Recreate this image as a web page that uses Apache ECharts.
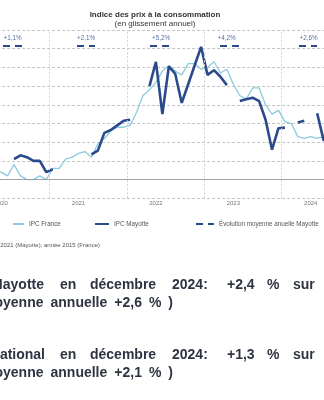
<!DOCTYPE html>
<html><head><meta charset="utf-8">
<script src="https://cdn.jsdelivr.net/npm/echarts@6/dist/echarts.min.js"></script>
<style>html,body{margin:0;padding:0;background:#fff;overflow:hidden;width:324px;height:400px;position:relative}
#c{position:absolute;left:-28px;top:0;width:388px;height:400px}</style>
</head><body><div id="c"></div>
<script>
// ---- data ----
const years = ['2020', '2021', '2022', '2023', '2024'];
const monthNums = ['01','02','03','04','05','06','07','08','09','10','11','12'];
const categories = [];
years.forEach(y => monthNums.forEach(m => categories.push(y + '-' + m)));

const ipcFrance = [
  1.5, 1.4, 0.7, 0.3, 0.4, 0.2, 0.8, 0.2, 0.0, 0.0, 0.2, 0.0,
  0.6, 0.6, 1.1, 1.2, 1.4, 1.5, 1.2, 1.9, 2.2, 2.6, 2.8, 2.8,
  2.9, 3.6, 4.5, 4.8, 5.2, 5.8, 6.1, 5.8, 5.6, 6.2, 6.2, 5.9,
  6.0, 6.3, 5.7, 5.9, 5.1, 4.5, 4.3, 4.9, 4.9, 4.0, 3.5, 3.7,
  3.1, 3.0, 2.3, 2.2, 2.3, 2.2, 2.3, 1.8, 1.2, 1.2, 1.3, 1.3
];
const ipcMayotte = [
  null, null, null, null, null, null, 1.1, 1.3, 1.2, 1.0, 1.0, 0.4,
  0.55, null, null, null, null, null, 1.35, 1.55, 2.5, 2.65, 2.9, 3.15,
  3.2, null, null, 5.0, 6.3, 3.5, 6.05, 5.65, 4.1, 5.1, 6.1, 7.1,
  5.6, 5.85, 5.5, 5.05, null, 4.2, 4.3, 4.38, 4.2, 3.2, 1.6, 2.75,
  2.78, null, 3.05, 3.15, null, 3.55, 2.1, 2.3, 2.2, 2.5, 2.6, 2.4
];
const avgMayotte = [1.1, 2.1, 5.2, 4.2, 2.6];
const avgLabels = avgMayotte.map(v => '+' + v.toFixed(1).replace('.', ',') + '%');

// ---- layout ----
const OFF = 28; // container is shifted 28px left (the reference is a crop)
const DASH_Y = 7.15, LABEL_Y = 7.58;
const dashSpans = [[4.29, 7.24], [15.76, 18.55], [27.08, 30.18], [37.93, 41.5], [50.18, 52.97]];
const labelCenters = [5.76, 17.16, 28.79, 38.94, 51.66];

const avgLineData = [];
dashSpans.forEach((s, i) => {
  if (i > 0) avgLineData.push([s[0] - 0.5, '-']);
  avgLineData.push([s[0], DASH_Y], [s[1], DASH_Y]);
});
const avgLabelData = labelCenters.map(c => [c, LABEL_Y]);

const NAVY = '#2b4a8b';
const LIGHT = '#8ccbe0';
const TXT = '#2f3443';
const bigFont = 'bold 14px "Liberation Sans", Arial, sans-serif';

function txt(text, x, y, align, font, fill) {
  return { type: 'text', silent: true, style: { text: text, x: x + OFF, y: y, align: align, verticalAlign: 'middle', font: font, fill: fill } };
}
function wordLine(y, list) {
  return list.map(w => txt(w[0], w[1], y, w[2] || 'left', bigFont, TXT));
}

const chart = echarts.init(document.getElementById('c'), null, { renderer: 'canvas' });
chart.setOption({
  animation: false,
  backgroundColor: '#ffffff',
  textStyle: { fontFamily: '"Liberation Sans", Arial, sans-serif' },
  grid: { left: 0.1, right: 0.9, top: 30, bottom: 201.7, containLabel: false },
  xAxis: [{
    type: 'category', data: categories, boundaryGap: true,
    axisLine: { show: false }, axisTick: { show: false }, splitLine: { show: false },
    axisLabel: {
      interval: (i) => i % 12 === 4,
      formatter: v => v.slice(0, 4),
      fontSize: 6, color: '#777', margin: 2
    }
  }, {
    type: 'value', min: -0.5, max: 59.5, show: false,
    splitLine: { show: false }
  }],
  yAxis: {
    type: 'value', min: -1, max: 8, interval: 1,
    axisLine: { show: false }, axisTick: { show: false }, axisLabel: { show: false },
    splitLine: { show: true, lineStyle: { color: '#c4c4c4', type: [3, 2], width: 1 } }
  },
  legend: [
    { data: ['IPC France'], left: 12 + OFF, top: 221, itemWidth: 11, itemHeight: 6, padding: 0,
      itemStyle: { opacity: 0 }, textStyle: { fontSize: 6.3, color: '#555' } },
    { data: ['IPC Mayotte'], left: 94 + OFF, top: 221, itemWidth: 14, itemHeight: 6, padding: 0,
      itemStyle: { opacity: 0 }, textStyle: { fontSize: 6.3, color: '#555' } },
    { data: ['Évolution moyenne anuelle Mayotte'], left: 195 + OFF, top: 221, itemWidth: 18, itemHeight: 6, padding: 0,
      itemStyle: { opacity: 0 }, textStyle: { fontSize: 6.3, color: '#555' } }
  ],
  series: [
    {
      name: 'IPC France', type: 'line', data: ipcFrance, symbol: 'none',
      lineStyle: { color: LIGHT, width: 1.3 }, itemStyle: { color: LIGHT }, z: 3
    },
    {
      name: 'IPC Mayotte', type: 'line', data: ipcMayotte, symbol: 'none', connectNulls: false,
      lineStyle: { color: NAVY, width: 2.6 }, itemStyle: { color: NAVY }, z: 4
    },
    {
      name: 'Évolution moyenne anuelle Mayotte', type: 'line', xAxisIndex: 1, data: avgLineData,
      symbol: 'none', connectNulls: false,
      lineStyle: { color: NAVY, width: 2, type: [7, 5] }, itemStyle: { color: NAVY }, z: 4,
      markLine: {
        silent: true, symbol: ['none', 'none'], label: { show: false },
        lineStyle: { type: [2, 2], color: '#d2d2d2', width: 1 },
        data: [
          { xAxis: 11.5 }, { xAxis: 23.5 }, { xAxis: 35.5 }, { xAxis: 47.5 },
          { yAxis: 0, lineStyle: { type: 'solid', color: '#a0a0a0', width: 1.2 } }
        ]
      }
    },
    {
      name: 'labels', type: 'scatter', xAxisIndex: 1, data: avgLabelData, symbolSize: 0,
      silent: true,
      label: { show: true, position: 'inside', formatter: p => avgLabels[p.dataIndex],
        fontSize: 6.3, color: NAVY }
    }
  ],
  graphic: [
    txt('Indice des prix à la consommation', 155, 15, 'center', 'bold 8px "Liberation Sans", Arial, sans-serif', '#333'),
    txt('(en glissement annuel)', 155, 24, 'center', '8px "Liberation Sans", Arial, sans-serif', '#333'),
    txt('Base 100 : année 2021 (Mayotte), année 2015 (France)', 100, 245, 'right', '6px "Liberation Sans", Arial, sans-serif', '#555'),
    ...wordLine(285, [['Mayotte', 44, 'right'], ['en', 60], ['décembre', 90], ['2024:', 172], ['+2,4', 227], ['%', 267], ['sur', 293]]),
    ...wordLine(303, [['(moyenne', 43.5, 'right'], ['annuelle', 50.5], ['+2,6', 114.3], ['%', 148.9], [')', 168.3]]),
    ...wordLine(355, [['national', 45, 'right'], ['en', 60], ['décembre', 90], ['2024:', 172], ['+1,3', 227], ['%', 267], ['sur', 293]]),
    ...wordLine(373, [['(moyenne', 43.5, 'right'], ['annuelle', 50.5], ['+2,1', 114.3], ['%', 148.9], [')', 168.3]])
  ]
});
</script></body></html>
